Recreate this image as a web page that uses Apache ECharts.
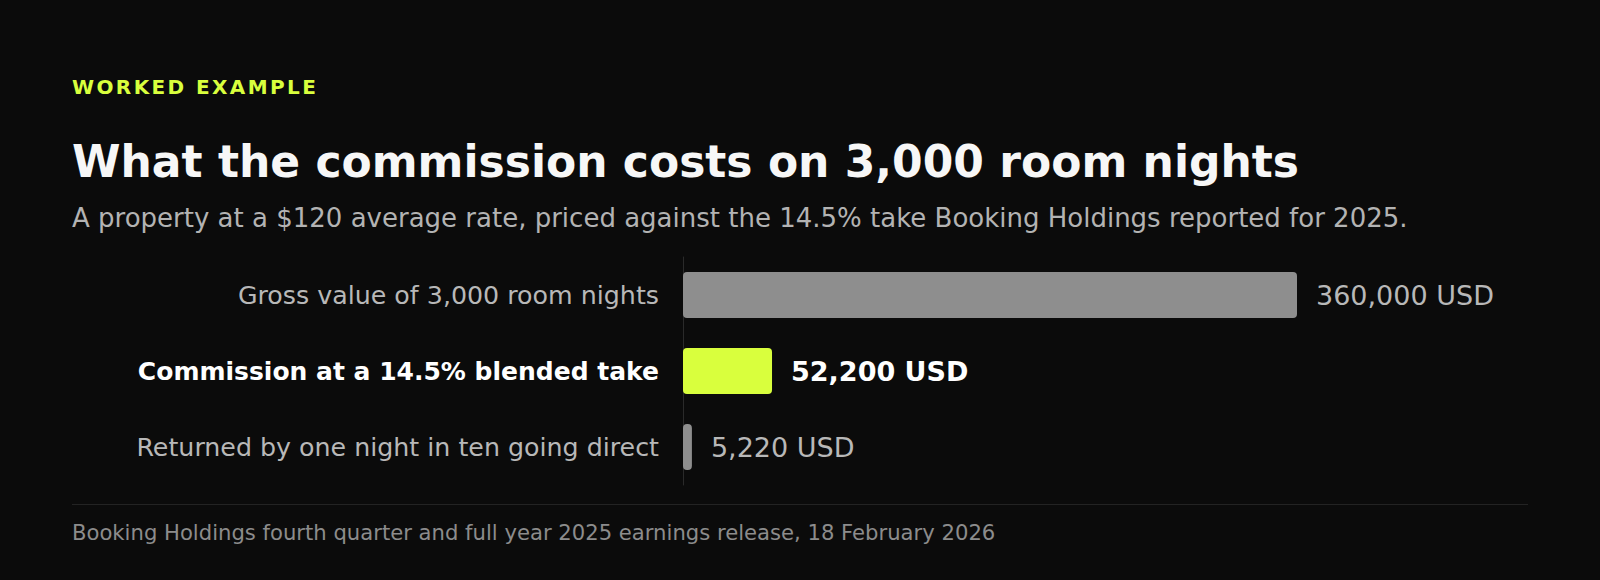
<!DOCTYPE html>
<html>
<head>
<meta charset="utf-8">
<script src="https://cdn.jsdelivr.net/npm/echarts@6/dist/echarts.min.js"></script>
<style>
  html, body { margin: 0; padding: 0; background: #0b0b0b; }
  #chart { width: 1600px; height: 580px; }
</style>
</head>
<body>
<div id="chart"></div>
<script>
// data
var categories = [
    'Gross value of 3,000 room nights',
    'Commission at a 14.5% blended take',
    'Returned by one night in ten going direct'
];
var values = [360000, 52200, 5220];
var highlight = 1; // the commission row

var FONT = '"DejaVu Sans", sans-serif';
var LIME = '#d9ff3d';
var EYEBROW = 'WORKED EXAMPLE';

// svg so the eyebrow can get letter spacing afterwards
var myChart = echarts.init(document.getElementById('chart'), null, { renderer: 'svg' });

function fmt(v) {
    return v.toLocaleString('en-US') + ' USD';
}

var barData = [];
for (var i = 0; i < values.length; i++) {
    var hi = i === highlight;
    barData.push({
        value: values[i],
        itemStyle: { color: hi ? LIME : '#8e8e8e', borderRadius: 4 },
        label: hi
            ? { color: '#ffffff', fontWeight: 'bold' }
            : { color: '#b8b8b8', fontWeight: 'normal' }
    });
}

var option = {
    backgroundColor: '#0b0b0b',
    animation: false,
    grid: { left: 683, right: 303, top: 257, height: 228 },
    xAxis: {
        type: 'value',
        min: 0,
        max: 360000,
        show: false
    },
    yAxis: {
        type: 'category',
        data: categories,
        inverse: true,
        axisLine: { show: true, lineStyle: { color: '#2a2a2a', width: 1 } },
        axisTick: { show: false },
        axisLabel: {
            margin: 24,
            fontFamily: FONT,
            fontSize: 25,
            formatter: function (val, idx) {
                return idx === highlight ? '{b|' + val + '}' : '{n|' + val + '}';
            },
            rich: {
                n: { color: '#b8b8b8', fontSize: 25.3, fontFamily: FONT },
                b: { color: '#ffffff', fontSize: 25, fontWeight: 'bold', fontFamily: FONT }
            }
        }
    },
    series: [{
        type: 'bar',
        data: barData,
        barWidth: 46,
        label: {
            show: true,
            position: 'right',
            distance: 19,
            fontFamily: FONT,
            fontSize: 27,
            formatter: function (p) { return fmt(p.value); }
        }
    }],
    graphic: [
        {
            type: 'text', x: 72, y: 87,
            style: { text: EYEBROW, fill: LIME, font: 'bold 20px ' + FONT, verticalAlign: 'middle' }
        },
        {
            type: 'text', x: 72, y: 161,
            style: {
                text: 'What the commission costs on 3,000 room nights',
                fill: '#f7f7f7', font: 'bold 44px ' + FONT, verticalAlign: 'middle'
            }
        },
        {
            type: 'text', x: 72, y: 218,
            style: {
                text: 'A property at a $120 average rate, priced against the 14.5% take Booking Holdings reported for 2025.',
                fill: '#b3b3b3', font: '26px ' + FONT, verticalAlign: 'middle'
            }
        },
        {
            type: 'line',
            shape: { x1: 72, y1: 504.5, x2: 1528, y2: 504.5 },
            style: { stroke: '#232323', lineWidth: 1 }
        },
        {
            type: 'text', x: 72, y: 532,
            style: {
                text: 'Booking Holdings fourth quarter and full year 2025 earnings release, 18 February 2026',
                fill: '#8c8c8c', font: '21.15px ' + FONT, verticalAlign: 'middle'
            }
        }
    ]
};

myChart.setOption(option);

// spaced-out eyebrow
var texts = document.querySelectorAll('#chart svg text');
for (var t = 0; t < texts.length; t++) {
    if (texts[t].textContent === EYEBROW) {
        texts[t].setAttribute('letter-spacing', '2.4');
    }
}
</script>
</body>
</html>
